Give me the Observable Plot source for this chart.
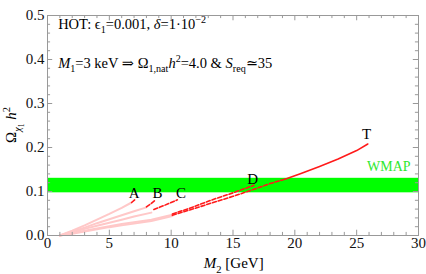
<!DOCTYPE html>
<html><head><meta charset="utf-8">
<script src="https://cdn.jsdelivr.net/npm/d3@7"></script>
<script src="https://cdn.jsdelivr.net/npm/@observablehq/plot@0.6"></script>
<style>body{margin:0;background:#fff} svg{display:block}</style>
</head><body><div id="chart"></div>
<script>
// ---- data ----
const xTicks = [0, 5, 10, 15, 20, 25, 30];
const xMinor = [1,2,3,4,6,7,8,9,11,12,13,14,16,17,18,19,21,22,23,24,26,27,28,29];
const yTicks = [0, 0.1, 0.2, 0.3, 0.4, 0.5];
const yMinor = [0.02,0.04,0.06,0.08,0.12,0.14,0.16,0.18,0.22,0.24,0.26,0.28,0.32,0.34,0.36,0.38,0.42,0.44,0.46,0.48];

const wmapLow = 0.097, wmapHigh = 0.13;

const pinkA = [[1,0],[2,0.011],[3,0.023],[4,0.036],[5,0.049],[6,0.063],[6.8,0.075]];
const pinkB = [[1,0],[2,0.009],[3,0.018],[4,0.028],[5,0.037],[6,0.046],[7,0.055],[8,0.064]];
const pinkC = [[1,0],[2,0.007],[3,0.015],[4,0.022],[5,0.029],[6,0.036],[7,0.043],[8.4,0.052]];
const pinkD = [[1,0],[2,0.005],[3,0.011],[4,0.016],[5,0.021],[6,0.026],[7,0.030],[8.4,0.036],[10.1,0.047]];
const pinkT = [[1,0],[2,0.004],[3,0.009],[4,0.014],[5,0.019],[6,0.023],[7,0.027],[8.4,0.033],[10.1,0.044]];

const dashA = [[6.8,0.075],[7.1,0.082]];
const dashB = [[8.0,0.065],[8.4,0.073],[8.75,0.081]];
const dashC = [[8.6,0.059],[9.5,0.069],[10.5,0.081]];
const dashD = [[10.1,0.049],[11.5,0.062],[13.4,0.082],[15,0.097],[16.7,0.114]];
const dashT = [[10.1,0.046],[11.5,0.058],[13.4,0.075],[15,0.089],[16.7,0.105],[18,0.118],[19.2,0.128]];
const solidT = [[19.2,0.128],[20.5,0.141],[22,0.157],[23.5,0.174],[25,0.193],[25.9,0.208]];

const curveNames = ["A", "B", "C", "D", "T"];
const labelX = [7.0, 8.9, 10.8, 16.6, 25.8];
const labelY = [0.085, 0.085, 0.085, 0.117, 0.22];
const wmapLabel = [{name: "WMAP", x: 27.6, y: 0.147}];

// ---- chart ----
const serif = "Liberation Serif, Times New Roman, DejaVu Serif, serif";
const pinkCol = "#ffc8c8", redCol = "#ff1a1a", greenCol = "#00ff00", frameCol = "#999";
const tickLen = 0.012, minorLen = 0.007;   // y units for x ticks
const tickLenX = 0.42, minorLenX = 0.25;    // x units for y ticks

const toRows = (arr) => arr.map(([x, y]) => ({x, y}));

const chart = Plot.plot({
  width: 426, height: 274,
  marginLeft: 47, marginRight: 8, marginTop: 15, marginBottom: 39,
  x: {domain: [0, 30]},
  y: {domain: [0, 0.5]},
  style: {fontFamily: serif, fontSize: "15px", background: "#fff", color: "#111"},
  marks: [
    Plot.rect([{x1: 0, x2: 30, y1: wmapLow, y2: wmapHigh}], {x1: "x1", x2: "x2", y1: "y1", y2: "y2", fill: greenCol}),
    ...[pinkA, pinkB, pinkC, pinkD, pinkT].map(s => Plot.line(toRows(s), {x: "x", y: "y", stroke: pinkCol, strokeWidth: 2})),
    ...[dashA, dashB, dashC, dashD, dashT].map(s => Plot.line(toRows(s), {x: "x", y: "y", stroke: redCol, strokeWidth: 1.6, strokeDasharray: "4,2"})),
    Plot.line(toRows(solidT), {x: "x", y: "y", stroke: redCol, strokeWidth: 1.6}),
    Plot.text(curveNames, {x: (d, i) => labelX[i], y: (d, i) => labelY[i], text: d => d, fontSize: 15, fill: "#000", lineAnchor: "bottom"}),
    Plot.text(wmapLabel, {x: "x", y: "y", text: "name", fontSize: 14, fill: "#2ee82e", lineAnchor: "bottom"}),
    // frame ticks (inward)
    Plot.ruleX(xTicks, {x: d => d, y1: 0, y2: tickLen, stroke: frameCol}),
    Plot.ruleX(xMinor, {x: d => d, y1: 0, y2: minorLen, stroke: frameCol}),
    Plot.ruleX(xTicks, {x: d => d, y1: 0.5, y2: 0.5 - tickLen, stroke: frameCol}),
    Plot.ruleX(xMinor, {x: d => d, y1: 0.5, y2: 0.5 - minorLen, stroke: frameCol}),
    Plot.ruleY(yTicks, {y: d => d, x1: 0, x2: tickLenX, stroke: frameCol}),
    Plot.ruleY(yMinor, {y: d => d, x1: 0, x2: minorLenX, stroke: frameCol}),
    Plot.ruleY(yTicks, {y: d => d, x1: 30, x2: 30 - tickLenX, stroke: frameCol}),
    Plot.ruleY(yMinor, {y: d => d, x1: 30, x2: 30 - minorLenX, stroke: frameCol}),
    Plot.frame({stroke: frameCol}),
    Plot.axisX(xTicks, {tickSize: 0, tickPadding: 2, label: null, fontSize: 15, tickFormat: d => String(d)}),
    Plot.axisY(yTicks, {tickSize: 0, tickPadding: 3, label: null, fontSize: 15, tickFormat: d3.format(".1f")})
  ]
});

document.getElementById("chart").appendChild(chart);

// ---- rich text annotations (sub/superscripts) ----
const sx = chart.scale("x"), sy = chart.scale("y");
const svg = d3.select(chart);
function rich(x, y, parts, size, opts = {}) {
  const t = svg.append("text").attr("x", x).attr("y", y)
    .attr("font-size", size).attr("font-family", serif).attr("fill", "#000")
    .attr("text-anchor", opts.anchor || "start");
  if (opts.rotate) t.attr("transform", `rotate(-90 ${x} ${y})`);
  let cur = 0;
  for (const p of parts) {
    const s = t.append("tspan").text(p.t);
    const shift = p.shift || 0;
    s.attr("dy", shift - cur); cur = shift;
    if (p.scale) s.attr("font-size", size * p.scale);
    if (p.i) s.attr("font-style", "italic");
  }
  return t;
}
const sub = 0.3, sup = -0.4;
const fs = 14.5;
const ann1 = {x: 0.9, y: 0.468};
const ann2 = {x: 0.9, y: 0.38};
rich(sx.apply(ann1.x), sy.apply(ann1.y), [
  {t: "HOT: ϵ"}, {t: "1", shift: fs*sub, scale: 0.7}, {t: "=0.001, "}, {t: "δ", i: true},
  {t: "=1·10"}, {t: "−2", shift: fs*sup, scale: 0.7}
], fs);
rich(sx.apply(ann2.x), sy.apply(ann2.y), [
  {t: "M", i: true}, {t: "1", shift: fs*sub, scale: 0.7}, {t: "=3 keV ⇒ Ω"},
  {t: "1,nat", shift: fs*sub, scale: 0.7}, {t: "h", i: true}, {t: "2", shift: fs*sup, scale: 0.7},
  {t: "=4.0 & "}, {t: "S", i: true}, {t: "req", shift: fs*sub, scale: 0.7}, {t: "≃35"}
], fs);
// axis titles
rich(sx.apply(15.1), 268, [
  {t: "M", i: true}, {t: "2", shift: 15*sub, scale: 0.7}, {t: " [GeV]"}
], 15, {anchor: "middle"});
rich(16, sy.apply(0.25), [
  {t: "Ω"}, {t: "χ", shift: 15*sub, scale: 0.7, i: true}, {t: "1", shift: 15*0.5, scale: 0.5},
  {t: " "}, {t: "h", i: true}, {t: "2", shift: 15*sup, scale: 0.7}
], 15, {anchor: "middle", rotate: true});
</script>
</body></html>
